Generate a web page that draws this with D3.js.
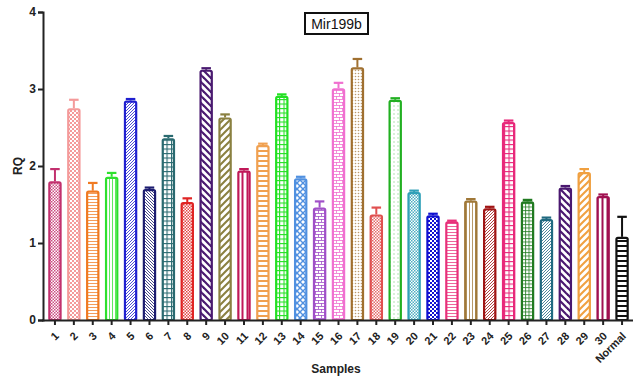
<!DOCTYPE html>
<html>
<head>
<meta charset="utf-8">
<script src="https://cdn.jsdelivr.net/npm/d3@7"></script>
<style>
  html, body { margin: 0; padding: 0; background: #fff; }
  svg { display: block; font-family: "Liberation Sans", Arial, sans-serif; }
</style>
</head>
<body>
<svg id="chart" width="635" height="377"></svg>
<script>
// Relative quantity of Mir199b per sample
const samples = ["1","2","3","4","5","6","7","8","9","10","11","12","13","14","15",
  "16","17","18","19","20","21","22","23","24","25","26","27","28","29","30","Normal"];
const rq = [1.80, 2.75, 1.68, 1.86, 2.85, 1.70, 2.36, 1.53, 3.25, 2.63, 1.94, 2.27, 2.91, 1.84, 1.46,
  3.01, 3.28, 1.37, 2.86, 1.66, 1.36, 1.28, 1.55, 1.45, 2.57, 1.54, 1.31, 1.72, 1.92, 1.61, 1.08];
const rqErr = [0.16, 0.11, 0.10, 0.05, 0.02, 0.02, 0.03, 0.05, 0.02, 0.04, 0.02, 0.02, 0.02, 0.02, 0.08,
  0.07, 0.11, 0.09, 0.02, 0.02, 0.02, 0.01, 0.02, 0.02, 0.02, 0.02, 0.02, 0.02, 0.04, 0.02, 0.26];
const yTicks = [0, 1, 2, 3, 4];

// Per-bar colour and fill pattern
const barColors = ["#c2306e","#f49a9a","#f07a22","#2ee02e","#2020d0","#1c1c70","#2a6a70","#e02424",
  "#4a1a70","#8a8040","#c01858","#f0a050","#22e022","#5090e0","#a050c8","#f070d0","#a07030",
  "#e05050","#22b022","#30a0b8","#1010d0","#e8307a","#a07838","#a01414","#e8287a","#207a20",
  "#206a80","#4a1870","#f0a040","#a01050","#111111"];
const barPatterns = ["checkFine","checker","hlines","vlines","diagDense","diagDenseB","grid","checkFine",
  "diagWideB","diagWide","vwide","ladder","grid","diamond","brick","brick","dots","checkFine","dotsSparse",
  "checkFine","checker","hlines","vlines","diagDense","grid","gridFine","diagDense","diagWideB","diagWide",
  "vwide","ladder"];

const svg = d3.select("#chart");
const margin = { left: 45.5, right: 3.5, top: 12, bottom: 57 };
const W = 635, H = 377;

const x = d3.scaleBand().domain(samples)
  .range([margin.left, W - margin.right]).paddingInner(0.3).paddingOuter(0.15);
const y = d3.scaleLinear().domain([0, 4]).range([H - margin.bottom, margin.top]);

// Pattern definitions
const defs = svg.append("defs");
function makePattern(id, type, c) {
  const sizes = { checkFine: 3, checker: 4, hlines: 3, vlines: 3, diagDense: 3, diagDenseB: 3,
    grid: 4.5, gridFine: 3.5, diagWide: 7, diagWideB: 7, vwide: 5, ladder: 5, diamond: 6,
    brick: 6, dots: 3, dotsSparse: 4 };
  const s = sizes[type];
  const p = defs.append("pattern").attr("id", id).attr("patternUnits", "userSpaceOnUse")
    .attr("width", s).attr("height", s);
  p.append("rect").attr("width", s).attr("height", s).attr("fill", "#fff");
  const line = (x1, y1, x2, y2, w, op) => p.append("line").attr("x1", x1).attr("y1", y1)
    .attr("x2", x2).attr("y2", y2).attr("stroke", c).attr("stroke-width", w)
    .attr("stroke-opacity", op == null ? 1 : op);
  const rect = (rx, ry, rw, rh, op) => p.append("rect").attr("x", rx).attr("y", ry)
    .attr("width", rw).attr("height", rh).attr("fill", c).attr("fill-opacity", op == null ? 1 : op);
  switch (type) {
    case "checkFine": rect(0, 0, s / 2, s / 2, 0.85); rect(s / 2, s / 2, s / 2, s / 2, 0.85); break;
    case "checker": rect(0, 0, s / 2, s / 2); rect(s / 2, s / 2, s / 2, s / 2); break;
    case "hlines": line(0, s / 2, s, s / 2, 1, 0.75); break;
    case "vlines": line(s / 2, 0, s / 2, s, 1, 0.75); break;
    case "diagDense": line(0, s, s, 0, 1, 0.8); line(-1, 1, 1, -1, 1, 0.8); line(s - 1, s + 1, s + 1, s - 1, 1, 0.8); break;
    case "diagDenseB": line(0, 0, s, s, 1, 0.8); line(-1, s - 1, 1, s + 1, 1, 0.8); line(s - 1, -1, s + 1, 1, 1, 0.8); break;
    case "grid": line(0, 0.5, s, 0.5, 1.2); line(0.5, 0, 0.5, s, 1.2); break;
    case "gridFine": line(0, 0.5, s, 0.5, 1, 0.8); line(0.5, 0, 0.5, s, 1, 0.8); break;
    case "diagWide": line(0, s, s, 0, 2); line(-2, 2, 2, -2, 2); line(s - 2, s + 2, s + 2, s - 2, 2); break;
    case "diagWideB": line(0, 0, s, s, 2.2); line(-2, s - 2, 2, s + 2, 2.2); line(s - 2, -2, s + 2, 2, 2.2); break;
    case "vwide": line(s / 2, 0, s / 2, s, 2); break;
    case "ladder": line(0, 1, s, 1, 2); break;
    case "diamond": line(0, 0, s, s, 1.4); line(0, s, s, 0, 1.4); break;
    case "brick":
      line(0, 0.5, s, 0.5, 1, 0.8); line(0, s / 2 + 0.5, s, s / 2 + 0.5, 1, 0.8);
      line(0.5, 0, 0.5, s / 2, 1, 0.8); line(s / 2 + 0.5, s / 2, s / 2 + 0.5, s, 1, 0.8); break;
    case "dots": p.append("circle").attr("cx", s / 2).attr("cy", s / 2).attr("r", 0.8).attr("fill", c).attr("fill-opacity", 0.7); break;
    case "dotsSparse": p.append("circle").attr("cx", s / 2).attr("cy", s / 2).attr("r", 0.7).attr("fill", c).attr("fill-opacity", 0.5); break;
  }
}
samples.forEach((d, i) => makePattern("pat" + i, barPatterns[i], barColors[i]));

// Error bars (upper only), drawn beneath bars
const eg = svg.append("g");
samples.forEach((d, i) => {
  const cx = x(d) + x.bandwidth() / 2;
  const cw = x.bandwidth() * 0.36;
  eg.append("line").attr("x1", cx).attr("x2", cx).attr("y1", y(rq[i])).attr("y2", y(rq[i] + rqErr[i]))
    .attr("stroke", barColors[i]).attr("stroke-width", 2);
  eg.append("line").attr("x1", cx - cw).attr("x2", cx + cw).attr("y1", y(rq[i] + rqErr[i]))
    .attr("y2", y(rq[i] + rqErr[i])).attr("stroke", barColors[i]).attr("stroke-width", 2.2);
});

// Bars
svg.append("g").selectAll("rect").data(samples).join("rect")
  .attr("x", d => x(d) + 1)
  .attr("width", x.bandwidth() - 2)
  .attr("y", (d, i) => y(rq[i]) + 1)
  .attr("height", (d, i) => y(0) - y(rq[i]) - 1)
  .attr("rx", 1.5)
  .attr("fill", (d, i) => `url(#pat${i})`)
  .attr("stroke", (d, i) => barColors[i])
  .attr("stroke-width", 2.2);

// Y axis
const yAxis = svg.append("g").attr("transform", `translate(${margin.left - 2.5},0)`)
  .call(d3.axisLeft(y).tickValues(yTicks).tickFormat(d3.format("d")).tickSize(5).tickPadding(2));
yAxis.select(".domain").attr("stroke", "#222").attr("stroke-width", 2);
yAxis.selectAll(".tick line").attr("stroke", "#222").attr("stroke-width", 2);
yAxis.selectAll(".tick text").attr("font-size", 12).attr("font-weight", "bold").attr("fill", "#222")
  .attr("font-family", "Liberation Sans, Arial, sans-serif");

// X axis
const xAxis = svg.append("g").attr("transform", `translate(0,${y(0)})`)
  .call(d3.axisBottom(x).tickSize(5).tickSizeOuter(0));
xAxis.select(".domain").attr("stroke", "#222").attr("stroke-width", 2)
  .attr("d", `M${margin.left - 3.5},0.5H${W - 2}`);
xAxis.selectAll(".tick line").attr("stroke", "#222").attr("stroke-width", 2);
xAxis.selectAll(".tick text")
  .attr("font-size", 11).attr("font-weight", "bold").attr("fill", "#222")
  .attr("font-family", "Liberation Sans, Arial, sans-serif")
  .attr("text-anchor", "end")
  .attr("y", 0)
  .attr("dy", "0.35em")
  .attr("transform", "translate(2,14) rotate(-45)");

// Axis titles
svg.append("text").attr("x", 336).attr("y", 373).attr("text-anchor", "middle")
  .attr("font-size", 12).attr("font-weight", "bold").attr("fill", "#222").text("Samples");
svg.append("text").attr("transform", "translate(22,166) rotate(-90)").attr("text-anchor", "middle")
  .attr("font-size", 12).attr("font-weight", "bold").attr("fill", "#222").text("RQ");

// Boxed title
const tg = svg.append("g");
tg.append("rect").attr("x", 305).attr("y", 13).attr("width", 63).attr("height", 21)
  .attr("fill", "#fff").attr("stroke", "#111").attr("stroke-width", 2);
tg.append("text").attr("x", 336.5).attr("y", 29).attr("text-anchor", "middle")
  .attr("font-size", 14).attr("fill", "#111").text("Mir199b");
</script>
</body>
</html>
